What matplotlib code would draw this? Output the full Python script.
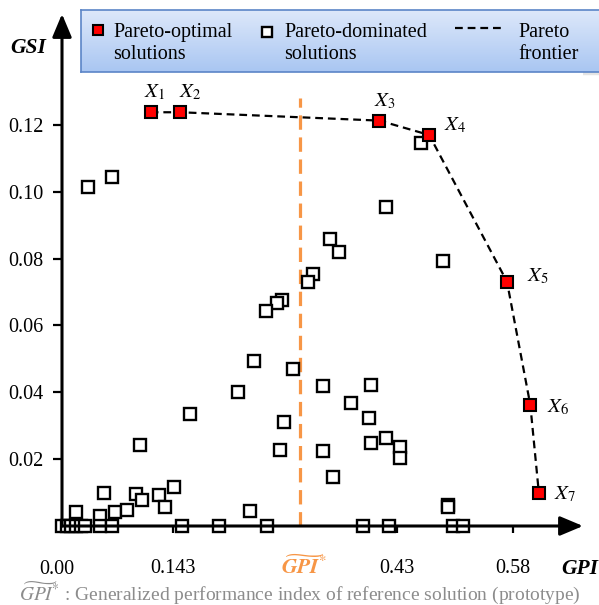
import numpy as np
import matplotlib
matplotlib.use('Agg')
import matplotlib.pyplot as plt
from matplotlib.patches import Rectangle
from matplotlib.colors import LinearSegmentedColormap

plt.rcParams['font.family'] = ['Liberation Serif', 'DejaVu Serif']
plt.rcParams['mathtext.fontset'] = 'stix'

# Pareto-optimal solutions X1..X7 (GPI, GSI)
pareto_x = [0.114, 0.152, 0.408, 0.472, 0.572, 0.602, 0.613]
pareto_y = [0.1238, 0.1238, 0.1213, 0.1170, 0.0731, 0.0362, 0.0098]
pareto_names = ['$X_1$', '$X_2$', '$X_3$', '$X_4$', '$X_5$', '$X_6$', '$X_7$']

# Pareto-dominated solutions
dom_x = [0.461, 0.416, 0.490, 0.416, 0.435, 0.434, 0.496,
         0.345, 0.356, 0.322, 0.316, 0.283, 0.276, 0.262, 0.247, 0.297,
         0.226, 0.335, 0.397, 0.371, 0.395, 0.285, 0.397, 0.280, 0.335,
         0.165, 0.348, 0.100, 0.033, 0.064, 0.242, 0.496,
         0.054, 0.018, 0.049, 0.068, 0.084, 0.095, 0.103, 0.125, 0.144, 0.132,
         0.154, 0.202, 0.263, 0.387, 0.420, 0.503, 0.515,
         0.000, 0.006, 0.012, 0.018, 0.024, 0.030, 0.049, 0.064]
dom_y = [0.1147, 0.0955, 0.0793, 0.0262, 0.0235, 0.0204, 0.0063,
         0.0859, 0.0819, 0.0754, 0.0731, 0.0676, 0.0668, 0.0643, 0.0495, 0.0471,
         0.0402, 0.0420, 0.0423, 0.0369, 0.0324, 0.0312, 0.0247, 0.0227, 0.0224,
         0.0335, 0.0147, 0.0242, 0.1014, 0.1044, 0.0046, 0.0057,
         0.0098, 0.0041, 0.0030, 0.0041, 0.0048, 0.0096, 0.0078, 0.0093, 0.0116, 0.0056,
         0.0, 0.0, 0.0, 0.0, 0.0, 0.0, 0.0,
         0.0, 0.0, 0.0, 0.0, 0.0, 0.0, 0.0, 0.0]

gpi_ref = 0.306   # GPI of the reference solution (prototype)
gpi_ref_top = 0.128

x_ticks = [0.143, 0.43, 0.58]
x_tick_labels = ['0.143', '0.43', '0.58']
y_ticks = [0.02, 0.04, 0.06, 0.08, 0.10, 0.12]
y_tick_labels = ['0.02', '0.04', '0.06', '0.08', '0.10', '0.12']

# label offsets (points) for X1..X7
lab_off = [(3, 14), (7, 14), (4, 14), (19, 7), (22, 4), (20, -2), (19, -1)]

orange = '#F79646'

fig = plt.figure(figsize=(5.99, 6.05), dpi=100)
ax = fig.add_axes([62/599, 79/605, 521/599, 512/605])
ax.set_xlim(0, 0.6697)
ax.set_ylim(0, 0.1532)
for s in ax.spines.values():
    s.set_visible(False)

# axes with arrow heads
arr = dict(arrowstyle='-|>,head_length=1.0,head_width=0.42', lw=2.2, color='k',
           shrinkA=0, shrinkB=0, mutation_scale=14)
ax.annotate('', xy=(1, 0), xytext=(0, 0), xycoords='axes fraction', arrowprops=arr,
            annotation_clip=False, zorder=5)
ax.annotate('', xy=(0, 1), xytext=(0, 0), xycoords='axes fraction', arrowprops=arr,
            annotation_clip=False, zorder=5)

ax.set_xticks(x_ticks)
ax.set_xticklabels(x_tick_labels)
ax.set_yticks(y_ticks)
ax.set_yticklabels(y_tick_labels)
ax.tick_params(axis='y', direction='out', length=6.5, width=1.6, pad=7, labelsize=14.5)
ax.tick_params(axis='x', direction='out', length=5, width=1.6, pad=19, labelsize=14.5)

ax.annotate('0.00', xy=(0, 0), xytext=(-4, -31), textcoords='offset points',
            ha='center', va='center', fontsize=14.5, annotation_clip=False)

# reference solution line
ax.plot([gpi_ref, gpi_ref], [0, gpi_ref_top], color=orange, lw=2.3,
        linestyle=(0, (4.5, 2.4)), zorder=1)
ax.annotate(r'$\widetilde{\mathbfit{GPI}}^{*}$', xy=(gpi_ref, 0), xytext=(3, -29.5),
            textcoords='offset points', ha='center', va='center', fontsize=15.5,
            color=orange, annotation_clip=False)

# dominated solutions
ax.plot(dom_x, dom_y, linestyle='none', marker='s', ms=8, mfc='white', mec='black',
        mew=1.7, zorder=3, clip_on=False)

# Pareto frontier
ax.plot(pareto_x, pareto_y, color='black', lw=1.6, linestyle=(0, (3.5, 2.2)), zorder=4)
ax.plot(pareto_x, pareto_y, linestyle='none', marker='s', ms=8, mfc='#FF0000',
        mec='black', mew=1.5, zorder=6)
for px, py, name, off in zip(pareto_x, pareto_y, pareto_names, lab_off):
    ax.annotate(name, xy=(px, py), xytext=off, textcoords='offset points',
                ha='center', va='center', fontsize=15)

# axis titles
fig.text(28/599, 1 - 48/605, 'GSI', fontsize=15.5, fontweight='bold', style='italic',
         ha='center', va='center')
fig.text(580/599, 1 - 569/605, 'GPI', fontsize=15.5, fontweight='bold', style='italic',
         ha='center', va='center')

# footnote
fig.text(0.5, 1 - 593/605,
         r'$\widetilde{GPI}^{*}$ : Generalized performance index of reference solution (prototype)',
         color='#8c8c8c', fontsize=14, ha='center', va='center')

# legend box with gradient
fig.patches.append(Rectangle((83/599, 1 - 74/605), 530/599, 62/605,
                             transform=fig.transFigure, color='#e4e4e4', zorder=-5))
lax = fig.add_axes([81/599, 1 - 72/605, 530/599, 62/605], zorder=3)
grad_cmap = LinearSegmentedColormap.from_list('lg', ['#a9c6f2', '#dde8fa'])
lax.imshow(np.linspace(0, 1, 100).reshape(-1, 1), extent=[0, 1, 0, 1], origin='lower',
           aspect='auto', cmap=grad_cmap)
lax.set_xlim(0, 1)
lax.set_ylim(0, 1)
lax.set_xticks([])
lax.set_yticks([])
for s in lax.spines.values():
    s.set_color('#5b85c7')
    s.set_linewidth(1.2)

lax.plot([0.0326], [0.677], marker='s', ms=7, mfc='#FF0000', mec='black', mew=1.5)
lax.text(0.0604, 0.46, 'Pareto-optimal\nsolutions', fontsize=14.5, va='center',
         linespacing=1.25)
lax.plot([0.350], [0.650], marker='s', ms=7, mfc='white', mec='black', mew=1.7)
lax.text(0.383, 0.46, 'Pareto-dominated\nsolutions', fontsize=14.5, va='center',
         linespacing=1.25)
lax.plot([0.706, 0.800], [0.71, 0.71], color='black', lw=1.6, linestyle=(0, (3.5, 2.2)))
lax.text(0.826, 0.46, 'Pareto\nfrontier', fontsize=14.5, va='center', linespacing=1.25)

fig.savefig('out.png', dpi=100)
